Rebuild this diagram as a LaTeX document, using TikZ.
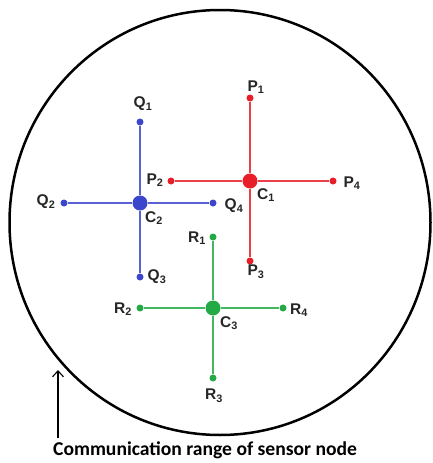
\documentclass[tikz,border=0pt]{standalone}
\usepackage{fontspec}
\usetikzlibrary{arrows.meta}
\setmainfont{Liberation Sans}
\newfontfamily\capfont{Carlito}
\definecolor{cred}{RGB}{232,30,40}
\definecolor{cblue}{RGB}{60,70,205}
\definecolor{cgreen}{RGB}{35,170,70}
\tikzset{
  sdot/.style={circle,fill=#1,inner sep=0pt,minimum size=7pt},
  cdot/.style={circle,fill=#1,inner sep=0pt,minimum size=15pt},
  link/.style={draw=#1,line width=1.2pt},
  lab/.style={font=\fontsize{15.5}{15.5}\selectfont\bfseries,inner sep=0pt,text=black!85}
}
\begin{document}
\begin{tikzpicture}[x=1pt,y=-1pt]
\useasboundingbox (0,0) rectangle (432,463);
\draw[line width=2.5pt] (220,222.5) ellipse [x radius=210.5, y radius=212.5];
% red
\node[cdot=cred] (c1) at (250,181) {};
\node[sdot=cred] (p1) at (250,98) {};
\node[sdot=cred] (p2) at (171,181) {};
\node[sdot=cred] (p3) at (250,261) {};
\node[sdot=cred] (p4) at (333,181) {};
\foreach \n in {p1,p2,p3,p4} \draw[link=cred!85] (c1) -- (\n);
% blue
\node[cdot=cblue] (c2) at (140,203) {};
\node[sdot=cblue] (q1) at (140,122) {};
\node[sdot=cblue] (q2) at (64,203) {};
\node[sdot=cblue] (q3) at (140,277) {};
\node[sdot=cblue] (q4) at (213,203) {};
\foreach \n in {q1,q2,q3,q4} \draw[link=cblue!85] (c2) -- (\n);
% green
\node[cdot=cgreen] (c3) at (213,308) {};
\node[sdot=cgreen] (r1) at (213,237) {};
\node[sdot=cgreen] (r2) at (140,308) {};
\node[sdot=cgreen] (r3) at (213,378) {};
\node[sdot=cgreen] (r4) at (283,308) {};
\foreach \n in {r1,r2,r3,r4} \draw[link=cgreen!85] (c3) -- (\n);
% labels
\node[lab] (lp1) at (256,87) {P\textsubscript{1}};
\node[lab] (lp2) at (155,180) {P\textsubscript{2}};
\node[lab] (lp3) at (256,272) {P\textsubscript{3}};
\node[lab] (lp4) at (352,183) {P\textsubscript{4}};
\node[lab] (lc1) at (266,195) {C\textsubscript{1}};
\node[lab] (lq1) at (143,104) {Q\textsubscript{1}};
\node[lab] (lq2) at (46,202) {Q\textsubscript{2}};
\node[lab] (lq3) at (157,277) {Q\textsubscript{3}};
\node[lab] (lq4) at (234,206) {Q\textsubscript{4}};
\node[lab] (lc2) at (154,218) {C\textsubscript{2}};
\node[lab] (lr1) at (197,238) {R\textsubscript{1}};
\node[lab] (lr2) at (123,309) {R\textsubscript{2}};
\node[lab] (lr3) at (214,396) {R\textsubscript{3}};
\node[lab] (lr4) at (299,310) {R\textsubscript{4}};
\node[lab] (lc3) at (229,323) {C\textsubscript{3}};
% caption
\node[font=\capfont\fontsize{19.6}{19.6}\selectfont\bfseries,anchor=west,inner sep=0pt] (cap) at (53,450) {Communication range of sensor node};
\coordinate (atip) at (58,370);
\coordinate (abase) at (58,438);
\draw[line width=1.1pt,-{Straight Barb[length=6pt,width=11pt]}] (abase) -- (atip);
\end{tikzpicture}
\end{document}
